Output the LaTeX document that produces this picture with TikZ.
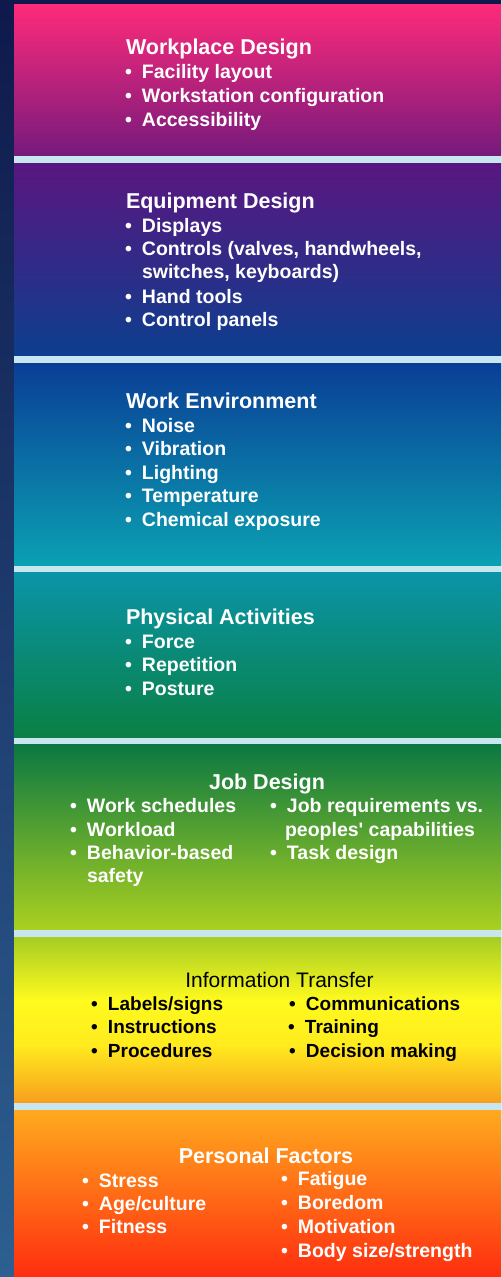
\documentclass[tikz,border=0pt]{standalone}
\usepackage{fontspec}
\setmainfont{Liberation Sans}
\definecolor{navyA}{RGB}{15,25,75}
\definecolor{navyB}{RGB}{45,95,145}
\definecolor{sepc}{RGB}{200,230,240}
\definecolor{aT}{RGB}{255,42,122}\definecolor{aM}{RGB}{205,38,125}\definecolor{aB}{RGB}{118,26,124}
\definecolor{bT}{RGB}{90,22,128}\definecolor{bM}{RGB}{22,20,115}\definecolor{bB}{RGB}{12,62,142}
\definecolor{cT}{RGB}{10,62,150}\definecolor{cB}{RGB}{10,160,178}
\definecolor{dT}{RGB}{10,148,168}\definecolor{dB}{RGB}{10,128,68}
\definecolor{eT}{RGB}{10,120,65}\definecolor{eM}{RGB}{60,155,50}\definecolor{eB}{RGB}{170,208,32}
\definecolor{fT}{RGB}{165,205,35}\definecolor{fM}{RGB}{255,250,30}\definecolor{fN}{RGB}{255,235,30}\definecolor{fB}{RGB}{248,160,30}
\definecolor{gT}{RGB}{255,170,30}\definecolor{gM}{RGB}{255,110,25}\definecolor{gB}{RGB}{255,45,15}
\tikzset{
  ttl/.style={font=\fontsize{21.5}{24}\selectfont\bfseries, text=white, inner sep=0pt, outer sep=0pt, anchor=base west},
  itm/.style={font=\fontsize{19.5}{22}\selectfont\bfseries, text=white, inner sep=0pt, outer sep=0pt, anchor=base west},
  dark/.style={text=black},
}
\newcommand\Ttl[4][]{\node[ttl,#1] (#2) at #3 {#4};}
\newcommand\Itm[4][]{\node[itm,#1] (#2) at #3 {\makebox[17pt][l]{•}#4};}
\newcommand\Cnt[4][]{\node[itm,#1] (#2) at #3 {#4};}
\begin{document}
\begin{tikzpicture}[x=1pt,y=-1pt]
\useasboundingbox (0,0) rectangle (501,1277);
% background
\shade[top color=navyA, bottom color=navyB] (0,0) rectangle (501,1277);
\fill[navyA] (0,0) rectangle (501,4);
\fill[sepc] (14,4) rectangle (501,1277);
% panels
\shade[top color=aT, middle color=aM, bottom color=aB] (14,4) rectangle (501,155);
\shade[top color=bT, middle color=bM, bottom color=bB] (14,163) rectangle (501,355);
\shade[top color=cT, bottom color=cB] (14,363) rectangle (501,565);
\shade[top color=dT, bottom color=dB] (14,572) rectangle (501,737);
\shade[top color=eT, middle color=eM, bottom color=eB] (14,744) rectangle (501,929);
\shade[top color=fT, bottom color=fM] (14,937) rectangle (501,1000.5);
\shade[top color=fM, bottom color=fN] (14,1000) rectangle (501,1045.5);
\shade[top color=fN, bottom color=fB] (14,1045) rectangle (501,1102);
\shade[top color=gT, middle color=gM, bottom color=gB] (14,1110) rectangle (501,1277);
% panel 1
\Ttl{t1}{(126,54)}{Workplace Design}
\Itm{a1}{(125,78)}{Facility layout}
\Itm{a2}{(125,102)}{Workstation configuration}
\Itm{a3}{(125,126)}{Accessibility}
% panel 2
\Ttl{t2}{(126,208)}{Equipment Design}
\Itm{b1}{(125,232)}{Displays}
\Itm{b2}{(125,255)}{Controls (valves, handwheels,}
\Cnt{b2c}{(142,278)}{switches, keyboards)}
\Itm{b3}{(125,303)}{Hand tools}
\Itm{b4}{(125,326)}{Control panels}
% panel 3
\Ttl{t3}{(126,408)}{Work Environment}
\Itm{c1}{(125,432)}{Noise}
\Itm{c2}{(125,455.5)}{Vibration}
\Itm{c3}{(125,479)}{Lighting}
\Itm{c4}{(125,502.5)}{Temperature}
\Itm{c5}{(125,526)}{Chemical exposure}
% panel 4
\Ttl{t4}{(126,624)}{Physical Activities}
\Itm{d1}{(125,648)}{Force}
\Itm{d2}{(125,671.5)}{Repetition}
\Itm{d3}{(125,695)}{Posture}
% panel 5
\Ttl[anchor=base]{t5}{(267,789)}{Job Design}
\Itm{e1}{(70,812)}{Work schedules}
\Itm{e2}{(70,836)}{Workload}
\Itm{e3}{(70,859)}{Behavior-based}
\Cnt{e3c}{(87,882)}{safety}
\Itm{e4}{(270,812)}{Job requirements vs.}
\Cnt{e4c}{(285,836)}{peoples\textquotesingle\ capabilities}
\Itm{e5}{(270,859)}{Task design}
% panel 6
\node[ttl,dark,anchor=base,font=\fontsize{21}{24}\selectfont] (t6) at (279.5,987) {Information Transfer};
\Itm[dark,font=\fontsize{19}{22}\selectfont\bfseries]{f1}{(91,1010)}{Labels/signs}
\Itm[dark,font=\fontsize{19}{22}\selectfont\bfseries]{f2}{(91,1033.5)}{Instructions}
\Itm[dark,font=\fontsize{19}{22}\selectfont\bfseries]{f3}{(91,1057)}{Procedures}
\Itm[dark,font=\fontsize{19}{22}\selectfont\bfseries]{f4}{(289,1010)}{Communications}
\Itm[dark,font=\fontsize{19}{22}\selectfont\bfseries]{f5}{(288,1033.5)}{Training}
\Itm[dark,font=\fontsize{19}{22}\selectfont\bfseries]{f6}{(289,1057)}{Decision making}
% panel 7
\Ttl[anchor=base]{t7}{(266,1163)}{Personal Factors}
\Itm{g1}{(82,1187)}{Stress}
\Itm{g2}{(82,1210)}{Age/culture}
\Itm{g3}{(82,1233)}{Fitness}
\Itm{g4}{(281,1185)}{Fatigue}
\Itm{g5}{(281,1209)}{Boredom}
\Itm{g6}{(281,1233)}{Motivation}
\Itm{g7}{(281,1257)}{Body size/strength}
\end{tikzpicture}
\end{document}
